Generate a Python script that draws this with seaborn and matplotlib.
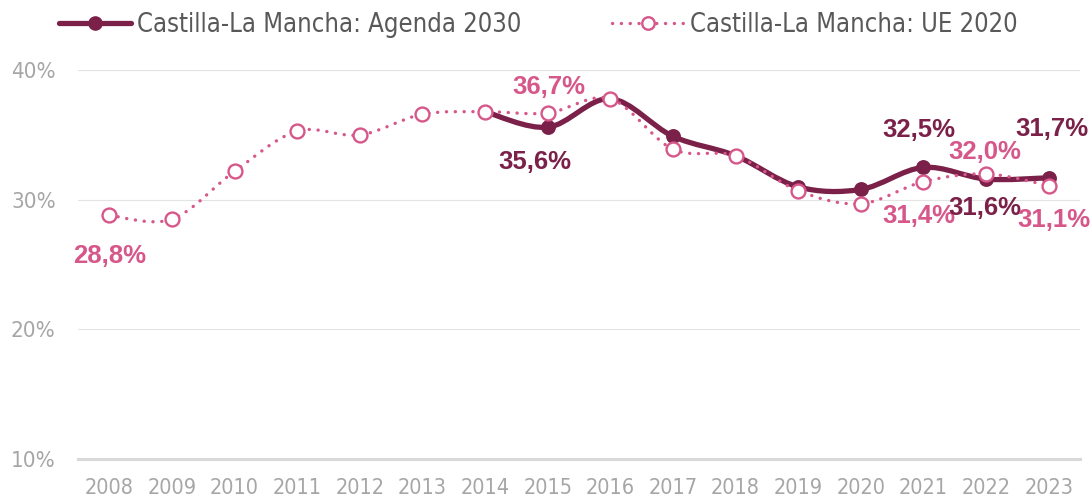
import numpy as np
import pandas as pd
import seaborn as sns
import matplotlib.pyplot as plt
from matplotlib.path import Path
from matplotlib.patches import PathPatch
from matplotlib.lines import Line2D

# datos
years_ue = [2008, 2009, 2010, 2011, 2012, 2013, 2014, 2015,
            2016, 2017, 2018, 2019, 2020, 2021, 2022, 2023]
ue_2020 = [28.8, 28.5, 32.2, 35.3, 35.0, 36.6, 36.8, 36.7,
           37.8, 33.9, 33.4, 30.7, 29.7, 31.4, 32.0, 31.1]
years_ag = [2014, 2015, 2016, 2017, 2018, 2019, 2020, 2021, 2022, 2023]
agenda_2030 = [36.8, 35.6, 37.8, 34.9, 33.4, 31.0, 30.8, 32.5, 31.6, 31.7]
y_ticks = [10, 20, 30, 40]

MAROON = '#7B2149'
PINK = '#D6578A'

sns.set_style('white')
plt.rcParams['font.family'] = ['DejaVu Sans']
plt.rcParams['font.stretch'] = 'condensed'

df_ue = pd.DataFrame({'year': years_ue, 'value': ue_2020})
df_ag = pd.DataFrame({'year': years_ag, 'value': agenda_2030})


def smooth_path(x, y):
    # curva suavizada tipo Excel (Catmull-Rom -> Bezier)
    p = np.column_stack([x, y]).astype(float)
    n = len(p)
    verts = [p[0]]
    codes = [Path.MOVETO]
    for i in range(n - 1):
        p0 = p[i - 1] if i > 0 else p[i]
        p3 = p[i + 2] if i + 2 < n else p[i + 1]
        c1 = p[i] + (p[i + 1] - p0) / 6
        c2 = p[i + 1] - (p3 - p[i]) / 6
        verts += [c1, c2, p[i + 1]]
        codes += [Path.CURVE4] * 3
    return Path(verts, codes)


fig, ax = plt.subplots(figsize=(10.92, 4.98), dpi=100)
fig.subplots_adjust(left=0.0714, right=0.989, bottom=0.0783, top=0.859)

# lineas suavizadas
ag_line = PathPatch(smooth_path(years_ag, agenda_2030), fill=False,
                    edgecolor=MAROON, lw=3.8, zorder=3, capstyle='round')
ax.add_patch(ag_line)
ue_line = PathPatch(smooth_path(years_ue, ue_2020), fill=False,
                    edgecolor=PINK, lw=2.4, zorder=4,
                    linestyle=(0, (0.05, 2.6)), capstyle='round')
ax.add_patch(ue_line)

# marcadores
sns.scatterplot(data=df_ag, x='year', y='value', ax=ax, color=MAROON,
                s=115, edgecolor=MAROON, linewidth=0, zorder=5, clip_on=False)
sns.scatterplot(data=df_ue, x='year', y='value', ax=ax, color='white',
                s=100, edgecolor=PINK, linewidth=1.7, zorder=6, clip_on=False)

ax.set_xlim(2007.5, 2023.5)
ax.set_ylim(10, 40)
ax.set_xticks(years_ue)
ax.set_xticklabels([str(y) for y in years_ue])
ax.set_yticks(y_ticks)
ax.set_yticklabels([f'{t}%' for t in y_ticks])
ax.set_xlabel('')
ax.set_ylabel('')
ax.tick_params(axis='both', length=0, labelsize=15.5, colors='#A6A6A6')
ax.tick_params(axis='x', pad=14)
ax.tick_params(axis='y', labelsize=16, pad=16)
ax.grid(axis='y', color='#E3E3E3', lw=0.8)
ax.set_axisbelow(True)
for s in ['top', 'right', 'left']:
    ax.spines[s].set_visible(False)
ax.spines['bottom'].set_color('#D9D9D9')
ax.spines['bottom'].set_linewidth(2.2)


def label(x, y, text, color, dx, dy):
    ax.annotate(text, (x, y), xytext=(dx, dy), textcoords='offset points',
                ha='center', va='center', fontsize=18.5, fontweight='bold',
                color=color, family=['Liberation Sans', 'DejaVu Sans'],
                fontstretch='normal', zorder=7, annotation_clip=False)


def fmt(v):
    return f'{v:.1f}%'.replace('.', ',')


label(2008, ue_2020[0], fmt(ue_2020[0]), PINK, 0, -29)
label(2015, ue_2020[7], fmt(ue_2020[7]), PINK, 1, 19)
label(2015, agenda_2030[1], fmt(agenda_2030[1]), MAROON, -9, -25)
label(2021, agenda_2030[7], fmt(agenda_2030[7]), MAROON, -3, 27)
label(2023, agenda_2030[9], fmt(agenda_2030[9]), MAROON, 2, 35)
label(2022, ue_2020[14], fmt(ue_2020[14]), PINK, -1, 16)
label(2021, ue_2020[13], fmt(ue_2020[13]), PINK, -3, -25)
label(2022, agenda_2030[8], fmt(agenda_2030[8]), MAROON, -1, -21)
label(2023, ue_2020[15], fmt(ue_2020[15]), PINK, 4, -25)

handles = [
    Line2D([], [], color=MAROON, lw=3.8, marker='o', ms=9.5,
           markerfacecolor=MAROON, markeredgecolor=MAROON),
    Line2D([], [], color=PINK, lw=2.4, linestyle=(0, (0.05, 2.6)),
           dash_capstyle='round', marker='o', ms=9,
           markerfacecolor='white', markeredgecolor=PINK, markeredgewidth=1.7),
]
fig.legend(handles, ['Castilla-La Mancha: Agenda 2030', 'Castilla-La Mancha: UE 2020'],
           loc='center left', bbox_to_anchor=(0.054, 0.95), ncol=2, frameon=False,
           fontsize=18.4, labelcolor='#595959', handlelength=2.8, handletextpad=0.25,
           columnspacing=3.55, borderpad=0, borderaxespad=0)

fig.savefig('out.png', dpi=100)
